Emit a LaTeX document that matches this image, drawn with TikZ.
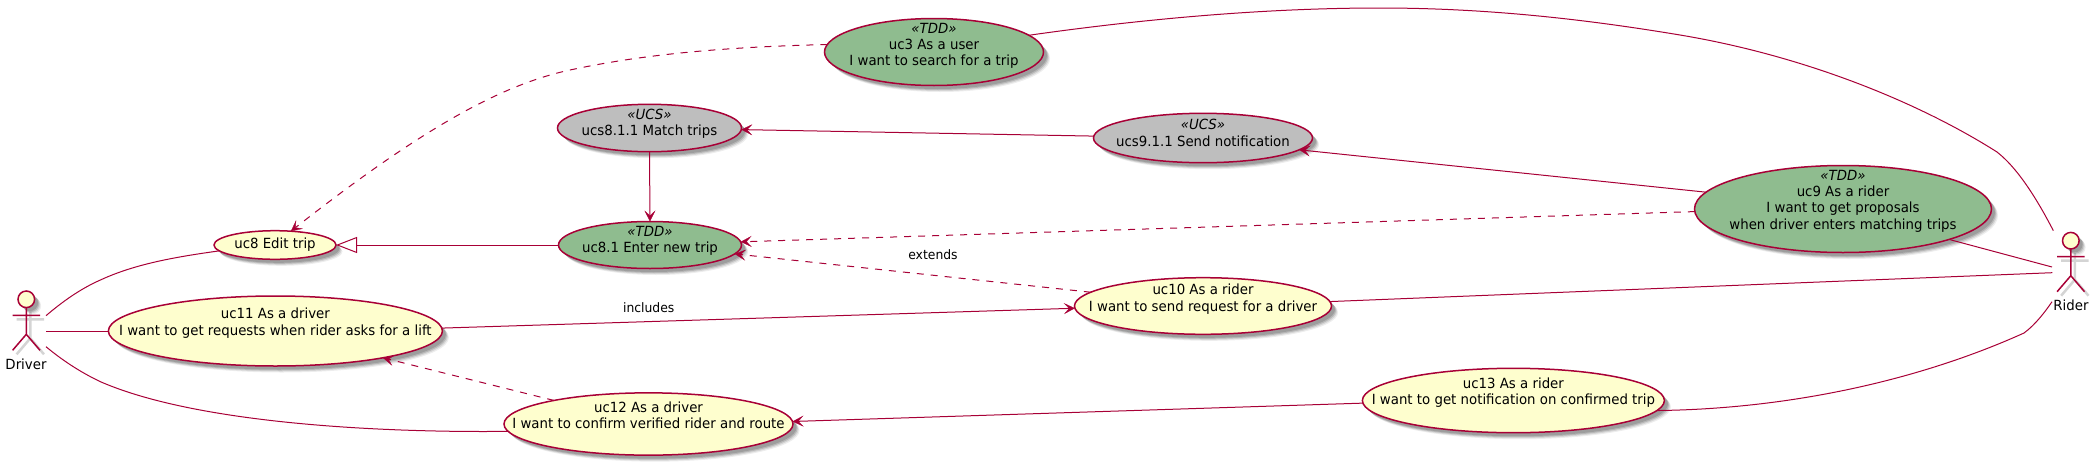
\documentclass[tikz,border=0pt]{standalone}
\usepackage{fontspec}
\setmainfont[FakeStretch=0.952]{DejaVu Sans}
\usetikzlibrary{arrows.meta,shapes.geometric,shadows}
\definecolor{umlred}{HTML}{A80036}
\definecolor{umlyellow}{HTML}{FEFECE}
\definecolor{umlgreen}{HTML}{8FBC8F}
\definecolor{umlgray}{HTML}{BEBEBE}
\tikzset{
  softshadow/.style={
    drop shadow={shadow xshift=6.5pt,shadow yshift=-6.5pt,fill=black,opacity=.07},
    drop shadow={shadow xshift=5.5pt,shadow yshift=-5.5pt,fill=black,opacity=.1},
    drop shadow={shadow xshift=4.5pt,shadow yshift=-4.5pt,fill=black,opacity=.14},
    drop shadow={shadow xshift=3.5pt,shadow yshift=-3.5pt,fill=black,opacity=.14}},
  usecase/.style={ellipse,draw=umlred,line width=1.5pt,inner sep=0pt,outer sep=0pt,softshadow},
  yellowcase/.style={usecase,fill=umlyellow},
  greencase/.style={usecase,fill=umlgreen},
  graycase/.style={usecase,fill=umlgray},
  lbl/.style={align=center,inner sep=0pt,font=\fontsize{14}{16.3}\selectfont,text=black},
  edgelbl/.style={inner sep=0pt,font=\fontsize{13}{15}\selectfont,text=black},
  conn/.style={draw=umlred,line width=1pt},
  dashconn/.style={conn,dash pattern=on 7pt off 7pt},
  openarrow/.style={-{Stealth[length=11pt,width=11pt,inset=5pt,line width=0.3pt]}},
  actorline/.style={draw=umlred,line width=1.5pt},
  actorshadow/.style={draw=black,opacity=.17,line width=2.5pt},
  actorhead/.style={circle,draw=umlred,fill=umlyellow,line width=1.5pt,inner sep=0pt,outer sep=0pt,minimum size=16.6pt,softshadow}
}
\newcommand{\stick}[4]{% name, x, y of head centre, headname implied
  \begin{scope}[shift={(#2+4,#3+4)}]
    \draw[actorshadow] (0,8.3) -- (0,35) (-13.7,16) -- (13.7,16) (-13.7,51) -- (0,35) -- (13.7,51);
  \end{scope}
  \node[actorhead] (#1) at (#2,#3) {};
  \begin{scope}[shift={(#2,#3)}]
    \draw[actorline] (0,8.3) -- (0,35) (-13.7,16) -- (13.7,16) (-13.7,51) -- (0,35) -- (13.7,51);
  \end{scope}
}
\begin{document}
\begin{tikzpicture}[x=1pt,y=-1pt]
\useasboundingbox (0,0) rectangle (2099,466);

% use cases
\node[greencase,minimum width=219pt,minimum height=67pt] (uc3) at (934,52) {};
\node[lbl] (uc3t) at (934,46) {\itshape «TDD»\\uc3 As a user\\I want to search for a trip};
\node[graycase,minimum width=184pt,minimum height=47.4pt] (ucs81) at (649.5,128) {};
\node[lbl] (ucs81t) at (649.5,124) {\itshape «UCS»\\ucs8.1.1 Match trips};
\node[graycase,minimum width=219pt,minimum height=49.4pt] (ucs91) at (1203,138) {};
\node[lbl] (ucs91t) at (1203,133) {\itshape «UCS»\\ucs9.1.1 Send notification};
\node[greencase,minimum width=297pt,minimum height=87pt] (uc9) at (1843,209) {};
\node[lbl] (uc9t) at (1843,201) {\itshape «TDD»\\uc9 As a rider\\I want to get proposals\\when driver enters matching trips};
\node[yellowcase,minimum width=122pt,minimum height=28.6pt] (uc8) at (275,245) {};
\node[lbl] (uc8t) at (275,245) {uc8 Edit trip};
\node[greencase,minimum width=183pt,minimum height=47pt] (uc81) at (650,245) {};
\node[lbl] (uc81t) at (650,241) {\itshape «TDD»\\uc8.1 Enter new trip};
\node[yellowcase,minimum width=334pt,minimum height=70pt] (uc11) at (275.4,331) {};
\node[lbl] (uc11t) at (275.4,323) {uc11 As a driver\\I want to get requests when rider asks for a lift};
\node[yellowcase,minimum width=257pt,minimum height=56.6pt] (uc10) at (1203,306) {};
\node[lbl] (uc10t) at (1203,299) {uc10 As a rider\\I want to send request for a driver};
\node[yellowcase,minimum width=289pt,minimum height=62.3pt] (uc12) at (648.5,424) {};
\node[lbl] (uc12t) at (648.5,415.5) {uc12 As a driver\\I want to confirm verified rider and route};
\node[yellowcase,minimum width=302pt,minimum height=64.4pt] (uc13) at (1513.4,400.5) {};
\node[lbl] (uc13t) at (1513.4,392.5) {uc13 As a rider\\I want to get notification on confirmed trip};

% actors
\stick{driver}{26.3}{299.3}{}
\node[lbl] (driverl) at (26,364) {Driver};
\stick{rider}{2070.8}{240.7}{}
\node[lbl] (riderl) at (2071,305) {Rider};
\coordinate (drvA) at (46,315.7);
\coordinate (drvB) at (46,331);
\coordinate (drvC) at (46,346.7);
\coordinate (ridA) at (2053.3,230.6);
\coordinate (ridB) at (2052,267);
\coordinate (ridC) at (2052.3,272.7);
\coordinate (ridD) at (2052,301.7);

% driver associations
\draw[conn] (drvA) .. controls (62,302) and (80,289) .. (100.4,280) .. controls (135,264) and (175,257) .. (uc8.186.5);
\draw[conn] (drvB) -- (uc11.west);
\draw[conn] (drvC) .. controls (62,360) and (80,372) .. (100.4,381.7) .. controls (200,425) and (390,432.7) .. (uc12.183.5);

% rider associations
\draw[conn] (uc3.10.5) .. controls (1150,18) and (1270,8) .. (1380,8) .. controls (1490,8) and (1590,20) .. (1680,35) .. controls (1800,55) and (1915,100) .. (1997,152) .. controls (2020,170) and (2040,205) .. (ridA);
\draw[conn] (uc9.344.6) -- (ridB);
\draw[conn] (uc10.2.2) -- (ridC);
\draw[conn] (uc13.356.6) .. controls (1790,409) and (1920,380) .. (2024,333) .. controls (2035,325) and (2045,312) .. (ridD);

% relations
\draw[dashconn,openarrow] (uc3.176.5) .. controls (720,47) and (640,55) .. (570,70) .. controls (500,85) and (420,130) .. (uc8.41.8);
\draw[conn,-{Triangle[open,length=21pt,width=16pt,fill=white]}] (uc81.west) -- (uc8.east);
\draw[conn,openarrow] (ucs91.179) -- (ucs81.359.2);
\draw[conn,openarrow] (ucs81.south) -- (uc81.north);
\draw[conn,openarrow] (uc9.173.3) -- (ucs91.353.5);
\draw[dashconn,openarrow] (uc9.181.8) -- (uc81.2.4);
\draw[dashconn,openarrow] (uc10.173.8) -- (uc81.354.7);
\draw[conn,openarrow] (uc11.1.6) -- (uc10.181.4);
\draw[dashconn,openarrow] (uc12.166.2) -- (uc11.346.3);
\draw[conn,openarrow] (uc13.181.4) -- (uc12.1.3);

% labels
\node[edgelbl] (extendsl) at (933,255) {extends};
\node[edgelbl] (includesl) at (648.7,307.7) {includes};
\end{tikzpicture}
\end{document}
